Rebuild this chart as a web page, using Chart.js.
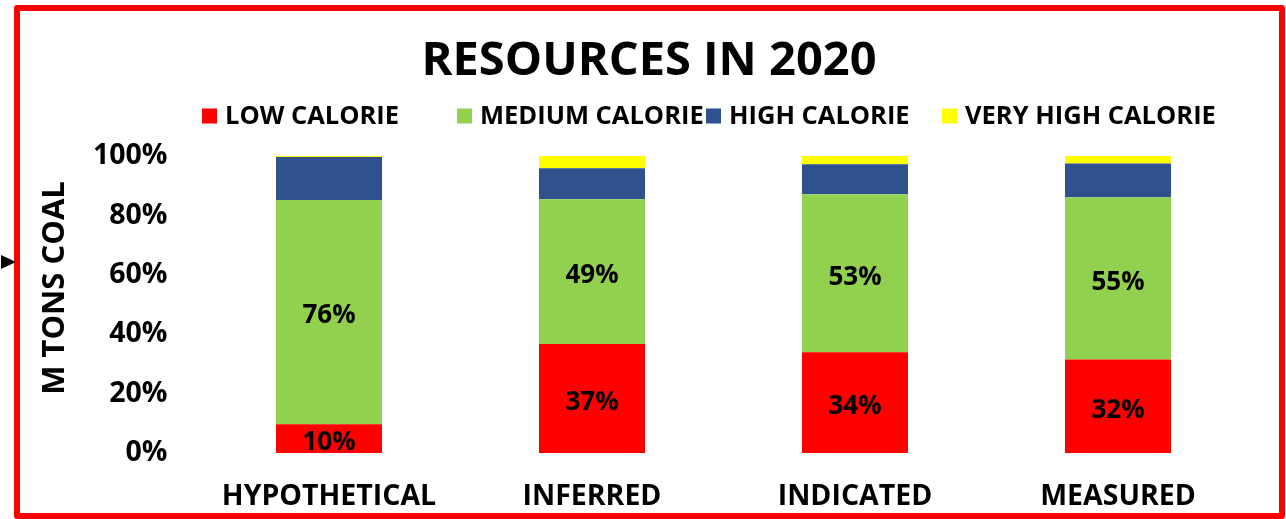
<!DOCTYPE html>
<html>
<head>
<meta charset="utf-8">
<script src="https://cdn.jsdelivr.net/npm/chart.js@4.4.1/dist/chart.umd.min.js"></script>
<style>
  html, body { margin: 0; padding: 0; background: #fff; }
  #wrap { position: relative; width: 1286px; height: 519px; overflow: hidden; }
  canvas { display: block; }
  #frame {
    position: absolute; left: 14px; top: 5px; width: 1259px; height: 502px;
    border: 6px solid #ff0000; border-radius: 3px; pointer-events: none;
  }
  #pointer {
    position: absolute; left: 1px; top: 255px; width: 0; height: 0;
    border-top: 7px solid transparent; border-bottom: 7px solid transparent;
    border-left: 15px solid #000;
  }
</style>
</head>
<body>
<div id="wrap">
  <canvas id="barChart" width="1286" height="519"></canvas>
  <div id="frame"></div>
  <div id="pointer"></div>
</div>
<script>
// resource classes and calorie groups (share of total, %)
const categories = ['HYPOTHETICAL', 'INFERRED', 'INDICATED', 'MEASURED'];
const lowCalorie = [9.7, 36.7, 33.9, 31.5];
const mediumCalorie = [75.5, 48.7, 53.2, 54.6];
const highCalorie = [14.5, 10.5, 10.1, 11.4];
const veryHighCalorie = [0.3, 4.1, 2.8, 2.5];
const yTicks = [0, 20, 40, 60, 80, 100];

const FONT = "'Open Sans', 'Noto Sans', sans-serif";

// title and legend drawn by hand so they sit where they should
const headerPlugin = {
  id: 'header',
  afterDraw(chart, args, opts) {
    const ctx = chart.ctx;
    ctx.save();
    ctx.fillStyle = '#000';
    ctx.textAlign = 'center';
    ctx.textBaseline = 'middle';
    ctx.font = 'bold 47px ' + FONT;
    ctx.fillText(opts.title, opts.titleX, opts.titleY);

    ctx.textAlign = 'left';
    ctx.font = 'bold 25.5px ' + FONT;
    chart.data.datasets.forEach((ds, i) => {
      const x = opts.columns[i];
      ctx.fillStyle = ds.backgroundColor;
      ctx.fillRect(x, opts.legendY - 7.5, 15, 15);
      ctx.fillStyle = '#000';
      ctx.fillText(ds.label, x + 23, opts.legendY + 1);
    });
    ctx.restore();
  }
};

// percentage labels on the low and medium segments
const valueLabels = {
  id: 'valueLabels',
  afterDatasetsDraw(chart) {
    const ctx = chart.ctx;
    ctx.save();
    ctx.font = 'bold 26px ' + FONT;
    ctx.fillStyle = '#000';
    ctx.textAlign = 'center';
    ctx.textBaseline = 'middle';
    [0, 1].forEach(di => {
      const meta = chart.getDatasetMeta(di);
      meta.data.forEach((bar, j) => {
        const v = chart.data.datasets[di].data[j];
        const p = bar.getProps(['x', 'y', 'base'], true);
        ctx.fillText(Math.round(v) + '%', p.x, (p.y + p.base) / 2 + 4);
      });
    });
    ctx.restore();
  }
};

// rotated axis caption
const axisCaption = {
  id: 'axisCaption',
  afterDraw(chart) {
    const ctx = chart.ctx;
    ctx.save();
    ctx.translate(55, 288);
    ctx.rotate(-Math.PI / 2);
    ctx.font = 'bold 31px ' + FONT;
    ctx.fillStyle = '#000';
    ctx.textAlign = 'center';
    ctx.textBaseline = 'middle';
    ctx.fillText('M TONS COAL', 0, 0);
    ctx.restore();
  }
};

const ctx = document.getElementById('barChart').getContext('2d');
new Chart(ctx, {
  type: 'bar',
  data: {
    labels: categories,
    datasets: [
      { label: 'LOW CALORIE', data: lowCalorie, backgroundColor: '#ff0000' },
      { label: 'MEDIUM CALORIE', data: mediumCalorie, backgroundColor: '#92d050' },
      { label: 'HIGH CALORIE', data: highCalorie, backgroundColor: '#2f528f' },
      { label: 'VERY HIGH CALORIE', data: veryHighCalorie, backgroundColor: '#ffff00' }
    ]
  },
  options: {
    responsive: false,
    animation: false,
    events: [],
    datasets: { bar: { barPercentage: 0.403, categoryPercentage: 1 } },
    layout: { padding: { left: 20, right: 36.5, top: 156, bottom: 8 } },
    plugins: {
      legend: { display: false },
      tooltip: { enabled: false },
      title: { display: false },
      header: {
        title: 'RESOURCES IN 2020', titleX: 649, titleY: 62,
        columns: [202, 457, 706, 942], legendY: 116
      }
    },
    scales: {
      x: {
        stacked: true,
        afterFit(scale) { scale.height = 58; },
        grid: { display: false, drawTicks: false },
        border: { display: false },
        ticks: {
          color: '#000',
          padding: 27,
          maxRotation: 0,
          font: { family: FONT, size: 28.5, weight: 'bold' }
        }
      },
      y: {
        stacked: true,
        min: 0,
        max: 100,
        afterFit(scale) { scale.width = 177.5; },
        afterBuildTicks(scale) { scale.ticks = yTicks.map(v => ({ value: v })); },
        grid: { display: false, drawTicks: false },
        border: { display: false },
        ticks: {
          color: '#000',
          padding: 30,
          font: { family: FONT, size: 28.5, weight: 'bold' },
          callback: v => v + '%'
        }
      }
    }
  },
  plugins: [headerPlugin, valueLabels, axisCaption]
});
</script>
</body>
</html>
